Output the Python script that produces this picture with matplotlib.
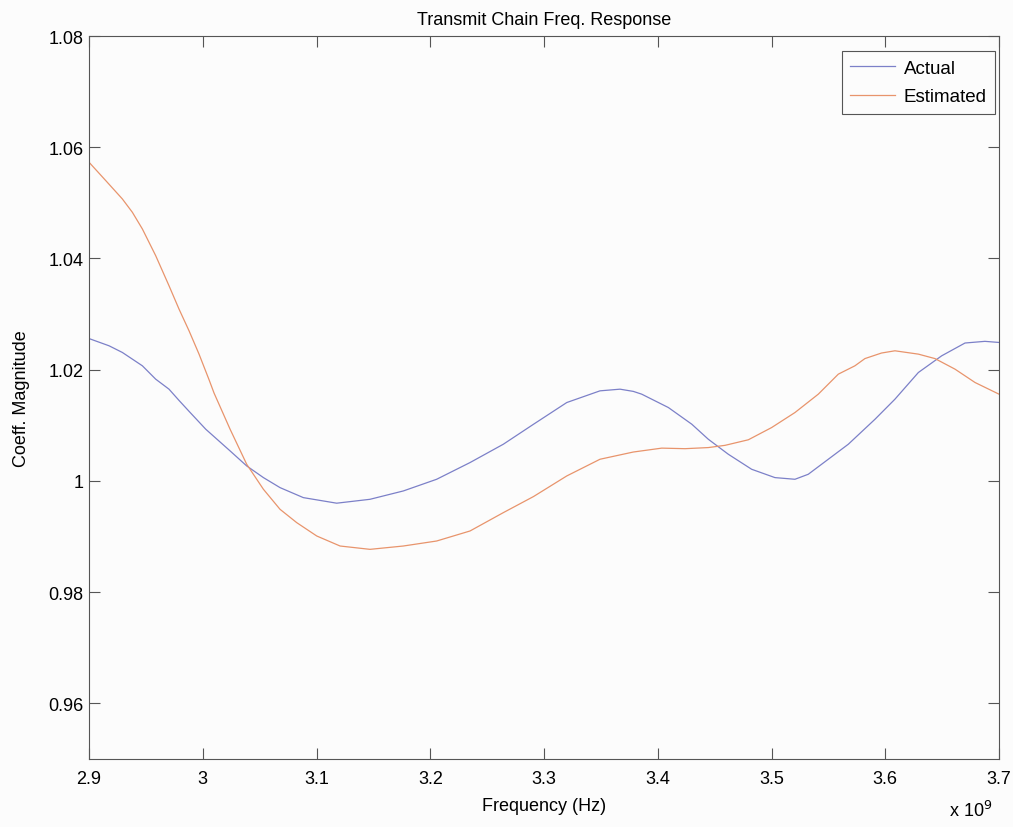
import numpy as np
import matplotlib
matplotlib.use("Agg")
import matplotlib.pyplot as plt

plt.rcParams['font.family'] = ['Liberation Sans', 'DejaVu Sans']

# frequency in GHz (axis shown with x 10^9 multiplier)
freq_actual = [2.9, 2.9176, 2.9293, 2.9469, 2.9586, 2.9703, 2.979, 2.988, 3.0026, 3.024,
               3.0386, 3.0533, 3.0679, 3.0884, 3.1177, 3.147, 3.1763, 3.2056, 3.2349,
               3.2642, 3.2908, 3.32, 3.3492, 3.3668, 3.3785, 3.3859, 3.4093, 3.4299,
               3.4444, 3.462, 3.4825, 3.503, 3.5206, 3.5323, 3.5499, 3.5675, 3.591,
               3.6085, 3.6291, 3.6496, 3.6701, 3.6876, 3.7]
mag_actual = [1.0256, 1.0243, 1.0231, 1.0207, 1.0183, 1.0165, 1.0145, 1.0125, 1.0093, 1.0054,
              1.0027, 1.0006, 0.9988, 0.9970, 0.9960, 0.9967, 0.9982, 1.0003, 1.0033,
              1.0066, 1.0102, 1.0141, 1.0162, 1.0165, 1.0161, 1.0156, 1.0132, 1.0102,
              1.0075, 1.0048, 1.0021, 1.0006, 1.0003, 1.0012, 1.0039, 1.0066, 1.0111,
              1.0147, 1.0195, 1.0225, 1.0248, 1.0251, 1.0249]

freq_est = [2.9, 2.9147, 2.9293, 2.9381, 2.9469, 2.9586, 2.9703, 2.9791, 2.9879, 2.9967,
            3.0055, 3.0099, 3.024, 3.0386, 3.0533, 3.0679, 3.0826, 3.1002, 3.1207, 3.147,
            3.1763, 3.2056, 3.2349, 3.2642, 3.2908, 3.32, 3.3492, 3.3785, 3.4035, 3.424,
            3.4444, 3.4591, 3.4796, 3.5001, 3.5206, 3.5411, 3.5587, 3.5733, 3.5821,
            3.5967, 3.6085, 3.6291, 3.6437, 3.6613, 3.6789, 3.7]
mag_est = [1.0573, 1.0540, 1.0507, 1.0483, 1.0453, 1.0405, 1.0351, 1.0309, 1.0270, 1.0228,
           1.0182, 1.0158, 1.0093, 1.0030, 0.9985, 0.9949, 0.9925, 0.9901, 0.9883, 0.9877,
           0.9883, 0.9892, 0.9910, 0.9943, 0.9972, 1.0009, 1.0039, 1.0052, 1.0059, 1.0058,
           1.0060, 1.0064, 1.0074, 1.0096, 1.0123, 1.0156, 1.0192, 1.0207, 1.0220,
           1.0230, 1.0234, 1.0228, 1.0220, 1.0201, 1.0177, 1.0156]

fs = 13
bg = '#fcfcfc'

fig = plt.figure(figsize=(10.13, 8.28), dpi=100, facecolor=bg)
ax = fig.add_axes([0.0879, 0.0821, 0.8983, 0.8732], facecolor=bg)

ax.plot(np.array(freq_actual) * 1e9, mag_actual, color='#7c80c8', lw=0.9, label='Actual')
ax.plot(np.array(freq_est) * 1e9, mag_est, color='#e8946c', lw=0.9, label='Estimated')

ax.set_xlim(2.9e9, 3.7e9)
ax.set_ylim(0.95, 1.08)
xt = np.arange(2.9, 3.71, 0.1)
ax.set_xticks(xt * 1e9)
ax.set_xticklabels(['%g' % round(v, 1) for v in xt])
yt = [0.96, 0.98, 1.0, 1.02, 1.04, 1.06, 1.08]
ax.set_yticks(yt)
ax.set_yticklabels(['%g' % v for v in yt])

ax.tick_params(direction='in', length=8, width=0.8, color='#555555',
               top=True, right=True, labelsize=fs)
ax.tick_params(axis='x', pad=8)
ax.tick_params(axis='y', pad=4)
for s in ax.spines.values():
    s.set_color('#555555')
    s.set_linewidth(0.8)

ax.set_title('Transmit Chain Freq. Response', fontsize=fs, pad=9)
ax.set_xlabel('Frequency (Hz)', fontsize=fs, labelpad=7)
ax.set_ylabel('Coeff. Magnitude', fontsize=fs, labelpad=13)
fig.text(0.958, 0.008, r'x 10$^{9}$', fontsize=fs, ha='center', va='bottom')

leg = ax.legend(loc='upper right', bbox_to_anchor=(0.9956, 0.979), borderaxespad=0,
                fontsize=13.5, fancybox=False, framealpha=1, edgecolor='#555555',
                handlelength=2.4, handletextpad=0.45, labelspacing=0.6, borderpad=0.45)
leg.get_frame().set_linewidth(0.8)
leg.get_frame().set_facecolor(bg)

fig.savefig('out.png', dpi=100, facecolor=fig.get_facecolor())
